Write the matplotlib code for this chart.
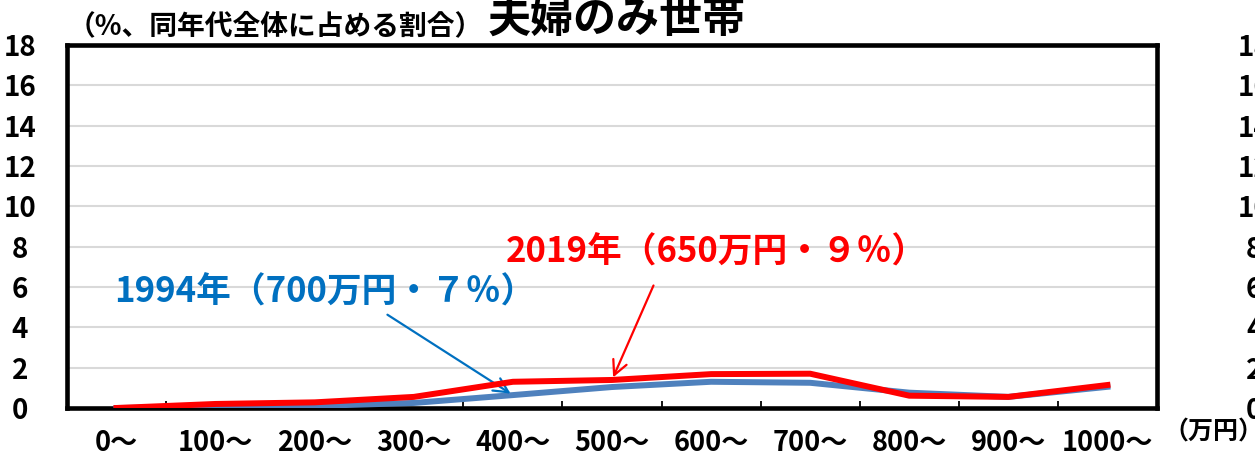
import numpy as np
import matplotlib
matplotlib.use("Agg")
import matplotlib.pyplot as plt

plt.rcParams['font.family'] = ['Noto Sans CJK JP', 'DejaVu Sans']
plt.rcParams['font.weight'] = 'bold'

# income bands (万円)
categories = ['0～', '100～', '200～', '300～', '400～', '500～',
              '600～', '700～', '800～', '900～', '1000～']
share_1994 = [0.0, 0.05, 0.1, 0.25, 0.64, 1.04, 1.3, 1.25, 0.76, 0.55, 1.05]
share_2019 = [0.0, 0.2, 0.28, 0.55, 1.3, 1.39, 1.68, 1.7, 0.61, 0.55, 1.14]
yticks = [0, 2, 4, 6, 8, 10, 12, 14, 16, 18]

red = '#FF0000'
blue_line = '#4F81BD'
blue_text = '#0070C0'

fig = plt.figure(figsize=(12.55, 4.62), dpi=100)
ax = fig.add_axes([0.0534, 0.1169, 0.8685, 0.7857])

x = np.arange(len(categories))
ax.plot(x, share_1994, color=blue_line, lw=4.3, zorder=3)
ax.plot(x, share_2019, color=red, lw=4.3, zorder=4)

ax.set_xlim(-0.5, len(categories) - 0.5)
ax.set_ylim(0, 18)
ax.set_yticks(yticks)
ax.set_yticklabels([str(v) for v in yticks], ha='center')
ax.tick_params(axis='y', length=0, pad=34, labelsize=20)
ax.set_xticks(x)
ax.set_xticklabels(categories)
ax.tick_params(axis='x', length=0, pad=15, labelsize=19.5)
ax.set_xticks(x[:-1] + 0.5, minor=True)
ax.tick_params(axis='x', which='minor', direction='in', length=5, width=1.3, color='black')
ax.grid(axis='y', color='#D9D9D9', lw=1.5)
ax.set_axisbelow(True)
for s in ax.spines.values():
    s.set_linewidth(3.3)
    s.set_color('black')

# duplicated scale on the right, clipped by the figure edge
ax2 = ax.twinx()
ax2.set_ylim(0, 18)
ax2.set_yticks(yticks)
ax2.set_yticklabels([str(v) for v in yticks], ha='center')
ax2.tick_params(axis='y', length=0, pad=70, labelsize=20)
for s in ax2.spines.values():
    s.set_visible(False)

# callouts
ax.text(6.05, 7.73, '2019年（650万円・９％）', color=red, fontsize=25,
        ha='center', va='center')
ax.annotate('', xy=(5.0, 1.39), xytext=(5.43, 6.2),
            arrowprops=dict(arrowstyle='->', color=red, lw=1.6,
                            mutation_scale=26))
ax.text(2.1, 5.75, '1994年（700万円・７％）', color=blue_text, fontsize=25,
        ha='center', va='center')
ax.annotate('', xy=(4.0, 0.64), xytext=(2.71, 4.7),
            arrowprops=dict(arrowstyle='->', color=blue_text, lw=1.6,
                            mutation_scale=26))

fig.text(68 / 1255, 1 - 26 / 462, '（%、同年代全体に占める割合）', fontsize=20,
         ha='left', va='center')
fig.text(488 / 1255, 1 - 20 / 462, '夫婦のみ世帯', fontsize=31,
         ha='left', va='center')
fig.text(1163 / 1255, 1 - 432 / 462, '（万円）', fontsize=18,
         ha='left', va='center')

fig.savefig('out.png', dpi=100)
